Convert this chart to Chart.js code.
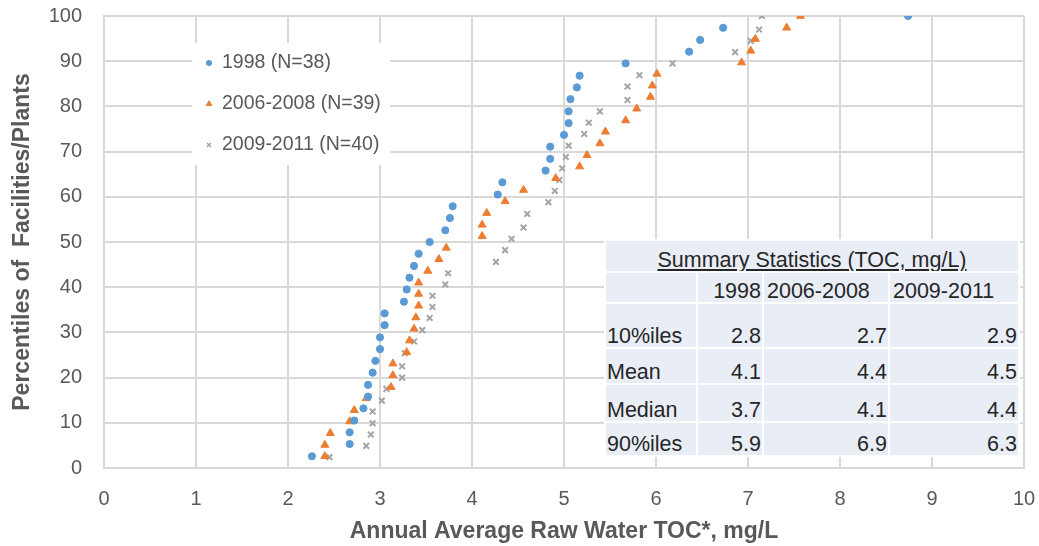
<!DOCTYPE html>
<html>
<head>
<meta charset="utf-8">
<script src="https://cdn.jsdelivr.net/npm/chart.js@4.4.1/dist/chart.umd.min.js"></script>
<style>
  html, body { margin: 0; padding: 0; background: #fff; }
  #wrap { position: relative; width: 1039px; height: 546px; }
  #summary {
    position: absolute; left: 604px; top: 239px;
    border-collapse: separate; border-spacing: 2px; background: #fff;
    table-layout: fixed;
    font-family: "Liberation Sans", Arial, sans-serif; font-size: 21.5px; color: #262626;
  }
  #summary td {
    background: #E9EDF6; padding: 0 1px; line-height: 22px;
    vertical-align: bottom; white-space: nowrap; overflow: hidden; text-align: right;
  }
  #summary td.lbl { text-align: left; }
  #summary td.hd { text-align: left; padding-left: 3px; }
  #summary td.ttl { text-align: center; text-decoration: underline; }
</style>
</head>
<body>
<div id="wrap">
  <canvas id="tocChart" width="1039" height="546"></canvas>
  <table id="summary"></table>
</div>
<script>
// percentile (y) and TOC mg/L (x)
const pct1998 = [2.6, 5.3, 7.9, 10.5, 13.2, 15.8, 18.4, 21.1, 23.7, 26.3, 28.9, 31.6, 34.2, 36.8, 39.5, 42.1, 44.7, 47.4, 50.0,
  52.6, 55.3, 57.9, 60.5, 63.2, 65.8, 68.4, 71.1, 73.7, 76.3, 78.9, 81.6, 84.2, 86.8, 89.5, 92.1, 94.7, 97.4, 100];
const toc1998 = [2.26, 2.67, 2.67, 2.72, 2.82, 2.87, 2.87, 2.92, 2.95, 3.00, 3.00, 3.05, 3.05, 3.26, 3.29, 3.32, 3.37, 3.42, 3.54,
  3.71, 3.76, 3.79, 4.28, 4.33, 4.80, 4.85, 4.85, 5.00, 5.05, 5.05, 5.07, 5.14, 5.17, 5.67, 6.36, 6.48, 6.73, 8.74];

const pct0608 = [2.6, 5.1, 7.7, 10.3, 12.8, 15.4, 17.9, 20.5, 23.1, 25.6, 28.2, 30.8, 33.3, 35.9, 38.5, 41.0, 43.6, 46.2, 48.7,
  51.3, 53.8, 56.4, 59.0, 61.5, 64.1, 66.7, 69.2, 71.8, 74.4, 76.9, 79.5, 82.1, 84.6, 87.2, 89.7, 92.3, 94.9, 97.4, 100];
const toc0608 = [2.40, 2.40, 2.46, 2.67, 2.72, 2.85, 3.12, 3.14, 3.14, 3.29, 3.32, 3.37, 3.39, 3.42, 3.42, 3.42, 3.52, 3.64, 3.72,
  4.11, 4.11, 4.16, 4.36, 4.56, 4.91, 5.17, 5.25, 5.39, 5.45, 5.67, 5.79, 5.94, 5.96, 6.01, 6.93, 7.03, 7.08, 7.42, 7.57];

const pct0911 = [2.4, 4.9, 7.4, 9.9, 12.5, 14.9, 17.5, 20.0, 22.5, 25.4, 28.0, 30.5, 33.2, 35.6, 38.1, 40.6, 43.1, 45.6, 48.2,
  50.7, 53.2, 56.2, 58.8, 61.3, 63.7, 66.3, 68.8, 71.3, 73.9, 76.4, 78.9, 81.4, 84.4, 86.9, 89.5, 92.0, 94.5, 97.0, 100];
const toc0911 = [2.45, 2.85, 2.90, 2.92, 2.92, 3.02, 3.07, 3.24, 3.24, 3.27, 3.37, 3.46, 3.54, 3.57, 3.57, 3.71, 3.74, 4.26, 4.36,
  4.43, 4.56, 4.60, 4.83, 4.90, 4.95, 4.98, 5.02, 5.05, 5.22, 5.27, 5.39, 5.69, 5.69, 5.82, 6.18, 6.86, 7.03, 7.12, 7.15];

const seriesNames = ["1998 (N=38)", "2006-2008 (N=39)", "2009-2011 (N=40)"];

// summary table
const statTitle = "Summary Statistics (TOC, mg/L)";
const statYears = ["1998", "2006-2008", "2009-2011"];
const statLabels = ["10%iles", "Mean", "Median", "90%iles"];
const stat1998 = ["2.8", "4.1", "3.7", "5.9"];
const stat0608 = ["2.7", "4.4", "4.1", "6.9"];
const stat0911 = ["2.9", "4.5", "4.4", "6.3"];

const toPoints = (xs, ys) => xs.map((x, i) => ({ x: x, y: ys[i] }));

const colWidths = [90, 64, 124, 128];
const rowHeights = [30, 29, 43, 34, 36, 32];
let html = "<colgroup>" + colWidths.map(w => '<col style="width:' + w + 'px">').join("") + "</colgroup>";
html += '<tr style="height:' + rowHeights[0] + 'px"><td class="ttl" colspan="4">' + statTitle + "</td></tr>";
html += '<tr style="height:' + rowHeights[1] + 'px"><td></td><td>' + statYears[0] + '</td><td class="hd">' +
  statYears[1] + '</td><td class="hd">' + statYears[2] + "</td></tr>";
statLabels.forEach((lab, i) => {
  html += '<tr style="height:' + rowHeights[i + 2] + 'px"><td class="lbl">' + lab + "</td><td>" + stat1998[i] +
    "</td><td>" + stat0608[i] + "</td><td>" + stat0911[i] + "</td></tr>";
});
document.getElementById("summary").innerHTML = html;

const textGrey = "#595959";
const gridGrey = "#D9D9D9";
const colors = ["#5B9BD5", "#ED7D31", "#A5A5A5"];
const styles = ["circle", "triangle", "crossRot"];

// legend drawn inside the plot area, upper left
const insideLegend = {
  id: "insideLegend",
  beforeDatasetsDraw(chart) {
    const ctx = chart.ctx;
    ctx.save();
    ctx.fillStyle = "#fff";
    ctx.fillRect(192, 43, 198, 122);
    const rows = [63, 104, 145];
    const sizes = [2.6, 3.2, 2.8];
    ctx.font = "19.5px 'Liberation Sans', Arial, sans-serif";
    ctx.textBaseline = "middle";
    seriesNames.forEach((name, i) => {
      ctx.fillStyle = colors[i];
      ctx.strokeStyle = colors[i];
      ctx.lineWidth = i === 2 ? 1.5 : 1;
      Chart.helpers.drawPoint(ctx, { pointStyle: styles[i], radius: sizes[i], borderWidth: ctx.lineWidth, rotation: 0 }, 209, rows[i]);
      ctx.fillStyle = textGrey;
      ctx.fillText(name, 222, rows[i]);
    });
    ctx.restore();
  }
};

const ctx = document.getElementById("tocChart").getContext("2d");
const tocChart = new Chart(ctx, {
  type: "scatter",
  data: {
    datasets: [
      {
        label: seriesNames[0],
        data: toPoints(toc1998, pct1998),
        pointStyle: "circle", pointRadius: 3.6,
        backgroundColor: colors[0], borderColor: colors[0], borderWidth: 1,
      },
      {
        label: seriesNames[1],
        data: toPoints(toc0608, pct0608),
        pointStyle: "triangle", pointRadius: 4.6,
        backgroundColor: colors[1], borderColor: colors[1], borderWidth: 1,
      },
      {
        label: seriesNames[2],
        data: toPoints(toc0911, pct0911),
        pointStyle: "crossRot", pointRadius: 4,
        backgroundColor: colors[2], borderColor: colors[2], borderWidth: 2,
      },
    ],
  },
  options: {
    responsive: false,
    animation: false,
    layout: { padding: { top: 16, right: 15, left: 0, bottom: 0 } },
    scales: {
      x: {
        type: "linear", min: 0, max: 10,
        afterFit: (s) => { s.height = 78; s.paddingLeft = 0; s.paddingRight = 0; },
        ticks: { stepSize: 1, color: textGrey, padding: 19, font: { family: "'Liberation Sans', Arial, sans-serif", size: 20 } },
        grid: { color: gridGrey, lineWidth: 2, drawTicks: false },
        border: { color: gridGrey, width: 2 },
        title: {
          display: true, text: "Annual Average Raw Water TOC*, mg/L", color: textGrey,
          padding: { top: 0, bottom: 1 },
          font: { family: "'Liberation Sans', Arial, sans-serif", size: 23, weight: "bold" },
        },
      },
      y: {
        min: 0, max: 100,
        afterFit: (s) => { s.width = 104; s.paddingTop = 0; s.paddingBottom = 0; },
        ticks: { stepSize: 10, color: textGrey, padding: 22, font: { family: "'Liberation Sans', Arial, sans-serif", size: 20 } },
        grid: { color: gridGrey, lineWidth: 2, drawTicks: false },
        border: { color: gridGrey, width: 2 },
        title: {
          display: true, text: "Percentiles of  Facilities/Plants", color: textGrey,
          padding: { top: 9, bottom: 0 },
          font: { family: "'Liberation Sans', Arial, sans-serif", size: 23, weight: "bold" },
        },
      },
    },
    plugins: {
      legend: { display: false },
      tooltip: { enabled: false },
    },
  },
  plugins: [insideLegend],
});
</script>
</body>
</html>
